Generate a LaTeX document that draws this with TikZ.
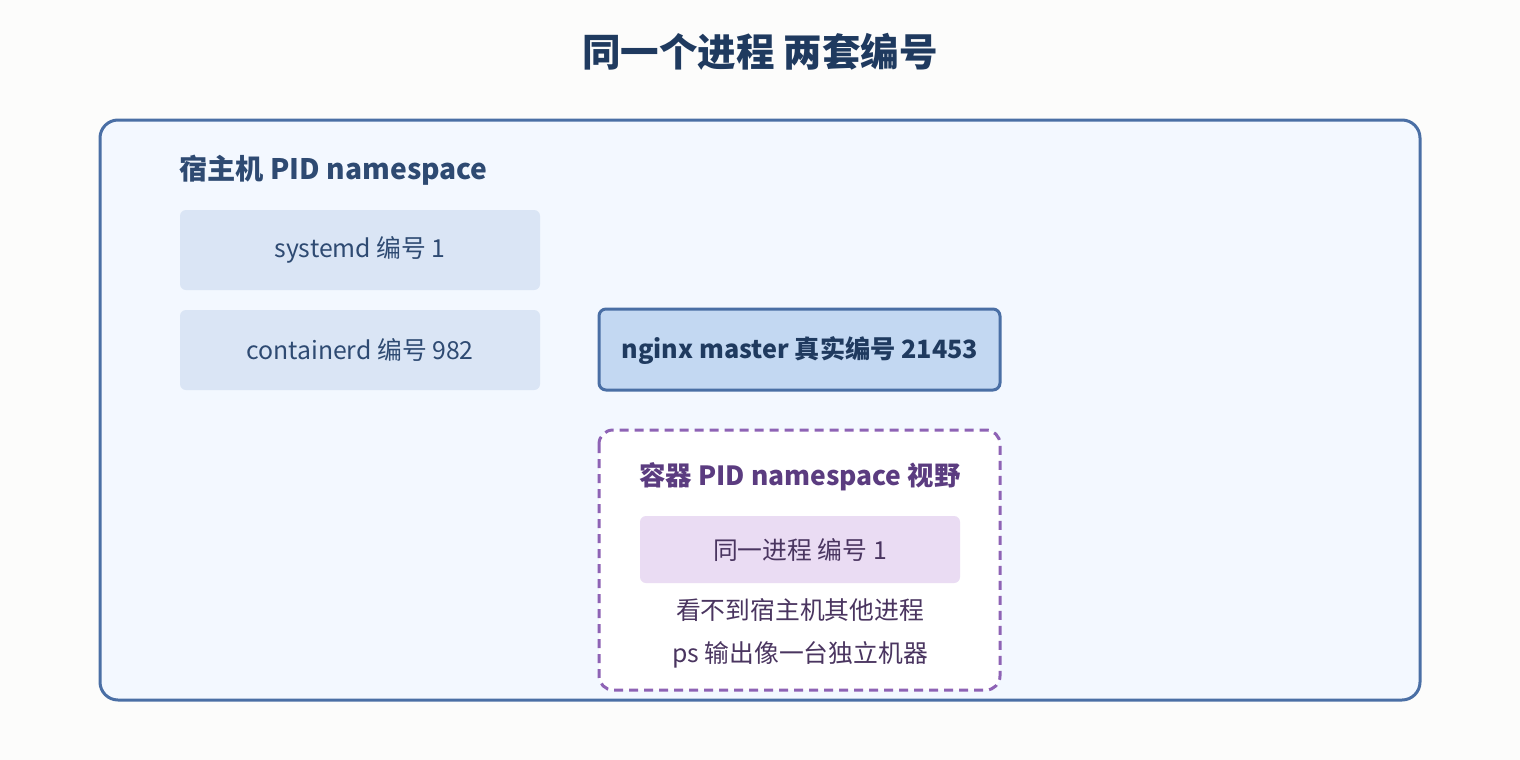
\documentclass[tikz,border=0pt]{standalone}
\usepackage{fontspec}
\setmainfont{Noto Sans CJK SC}
\begin{document}
\definecolor{bg}{HTML}{FCFCFB}
\definecolor{outerfill}{HTML}{F3F8FF}
\definecolor{outerline}{HTML}{4A6FA5}
\definecolor{lightbox}{HTML}{DAE5F5}
\definecolor{nginxfill}{HTML}{C3D8F2}
\definecolor{purpleline}{HTML}{8E63B5}
\definecolor{purplebox}{HTML}{EADCF3}
\definecolor{darkblue}{HTML}{1F3A5F}
\definecolor{textblue}{HTML}{2E4A72}
\definecolor{purpletext}{HTML}{5B3C80}
\definecolor{purplebody}{HTML}{4A3560}
\begin{tikzpicture}[x=1pt,y=-1pt,
  txt/.style={font=\fontsize{24.8}{28}\selectfont,text=textblue},
]
\fill[bg] (0,0) rectangle (1520,760);
\useasboundingbox (0,0) rectangle (1520,760);
\node[font=\fontsize{38.5}{44}\selectfont\bfseries,text=darkblue] (title) at (760,52) {同一个进程 两套编号};
\draw[outerline,line width=3pt,fill=outerfill,rounded corners=18pt] (100,120) rectangle (1420,700);
\node[anchor=west,font=\fontsize{28.2}{32}\selectfont\bfseries,text=textblue] (host) at (176,170) {宿主机 PID namespace};
\fill[lightbox,rounded corners=6pt] (180,210) rectangle (540,290);
\node[txt] (sysd) at (360,250) {systemd 编号 1};
\fill[lightbox,rounded corners=6pt] (180,310) rectangle (540,390);
\node[txt] (ctd) at (360,350) {containerd 编号 982};
\draw[outerline,line width=3pt,fill=nginxfill,rounded corners=7pt] (599,309) rectangle (1000,390);
\node[font=\fontsize{25.2}{28}\selectfont\bfseries,text=darkblue] (nginx) at (800,351) {nginx master 真实编号 21453};
\draw[purpleline,line width=3pt,dash pattern=on 9pt off 6pt,fill=white,rounded corners=14pt] (599,430) rectangle (1000,690);
\node[font=\fontsize{26.4}{30}\selectfont\bfseries,text=purpletext] (ctitle) at (800,477) {容器 PID namespace 视野};
\fill[purplebox,rounded corners=6pt] (640,516) rectangle (960,583);
\node[txt,text=purplebody] (same) at (800,550) {同一进程 编号 1};
\node[txt,text=purplebody] (l1) at (800,610) {看不到宿主机其他进程};
\node[txt,text=purplebody] (l2) at (800,655) {ps 输出像一台独立机器};
\end{tikzpicture}
\end{document}
